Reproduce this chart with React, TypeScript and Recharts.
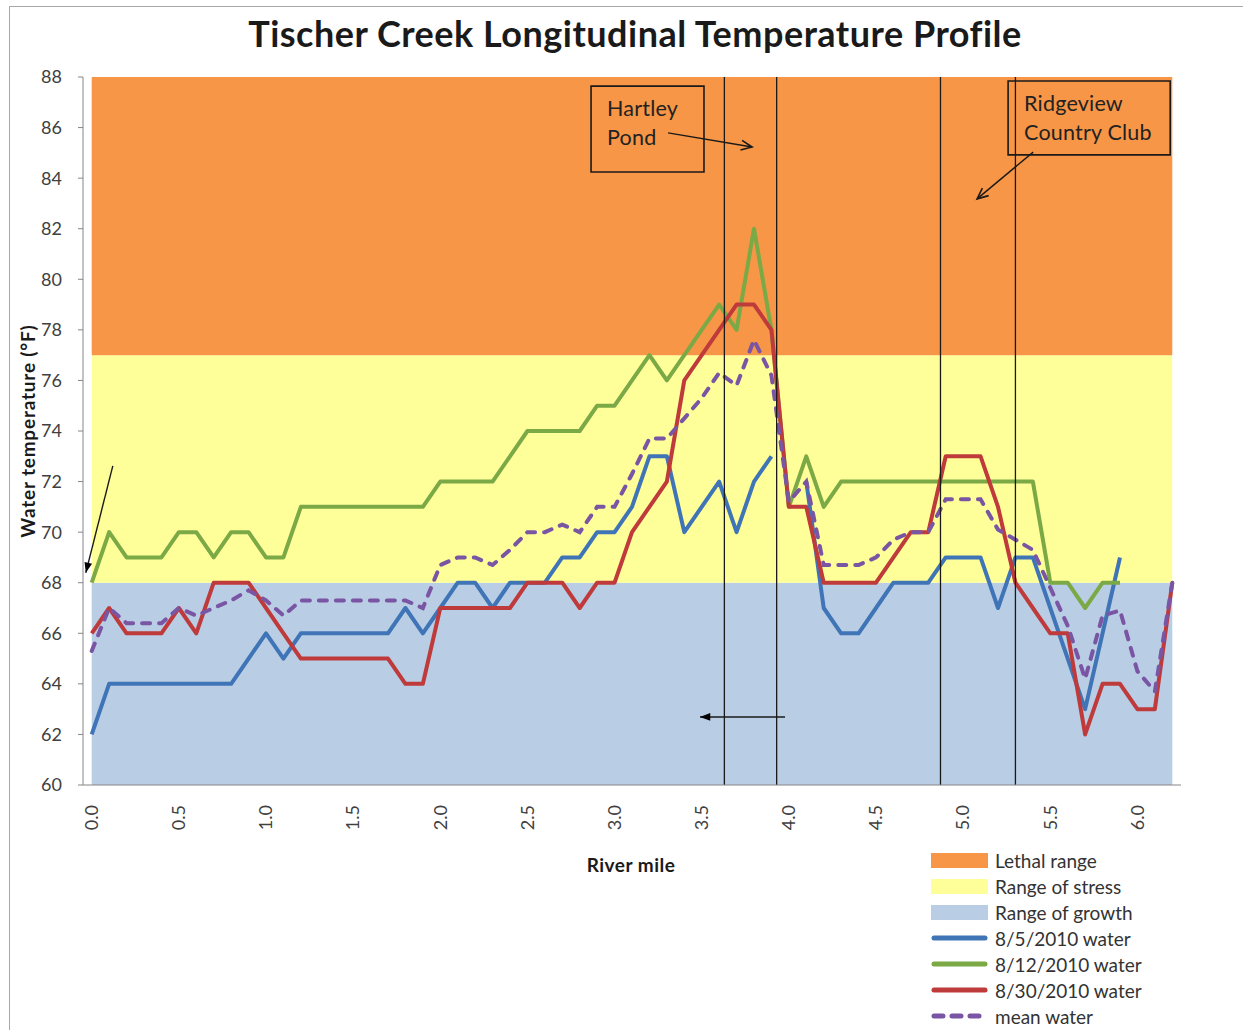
import React from "react";
import { LineChart, Line, XAxis, YAxis, ReferenceArea, ReferenceLine, Legend } from "recharts";

// river mile of every sampling point
const riverMiles = [
  0.0, 0.1, 0.2, 0.3, 0.4, 0.5, 0.6, 0.7, 0.8, 0.9,
  1.0, 1.1, 1.2, 1.3, 1.4, 1.5, 1.6, 1.7, 1.8, 1.9,
  2.0, 2.1, 2.2, 2.3, 2.4, 2.5, 2.6, 2.7, 2.8, 2.9,
  3.0, 3.1, 3.2, 3.3, 3.4, 3.5, 3.6, 3.7, 3.8, 3.9,
  4.0, 4.1, 4.2, 4.3, 4.4, 4.5, 4.6, 4.7, 4.8, 4.9,
  5.0, 5.1, 5.2, 5.3, 5.4, 5.5, 5.6, 5.7, 5.8, 5.9,
  6.0, 6.1, 6.2,
];

// water temperature (°F) per survey
const aug5Water = [
  62, 64, 64, 64, 64, 64, 64, 64, 64, 65,
  66, 65, 66, 66, 66, 66, 66, 66, 67, 66,
  67, 68, 68, 67, 68, 68, 68, 69, 69, 70,
  70, 71, 73, 73, 70, 71, 72, 70, 72, 73,
  null, 72, 67, 66, 66, 67, 68, 68, 68, 69,
  69, 69, 67, 69, 69, 67, 65, 63, 66, 69,
  null, null, null,
];
const aug12Water = [
  68, 70, 69, 69, 69, 70, 70, 69, 70, 70,
  69, 69, 71, 71, 71, 71, 71, 71, 71, 71,
  72, 72, 72, 72, 73, 74, 74, 74, 74, 75,
  75, 76, 77, 76, 77, 78, 79, 78, 82, 78,
  71, 73, 71, 72, 72, 72, 72, 72, 72, 72,
  72, 72, 72, 72, 72, 68, 68, 67, 68, 68,
  null, null, null,
];
const aug30Water = [
  66, 67, 66, 66, 66, 67, 66, 68, 68, 68,
  67, 66, 65, 65, 65, 65, 65, 65, 64, 64,
  67, 67, 67, 67, 67, 68, 68, 68, 67, 68,
  68, 70, 71, 72, 76, 77, 78, 79, 79, 78,
  71, 71, 68, 68, 68, 68, 69, 70, 70, 73,
  73, 73, 71, 68, 67, 66, 66, 62, 64, 64,
  63, 63, 68,
];
const meanWater = [
  65.3, 67, 66.4, 66.4, 66.4, 67, 66.7, 67, 67.3, 67.7,
  67.3, 66.7, 67.3, 67.3, 67.3, 67.3, 67.3, 67.3, 67.3, 67,
  68.7, 69, 69, 68.7, 69.3, 70, 70, 70.3, 70, 71,
  71, 72.3, 73.7, 73.7, 74.5, 75.3, 76.3, 75.8, 77.6, 76.2,
  71.2, 72, 68.7, 68.7, 68.7, 69, 69.7, 70, 70, 71.3,
  71.3, 71.3, 70.1, 69.7, 69.3, 67.8, 66.3, 64.2, 66.7, 66.9,
  64.5, 63.7, 68,
];

const tempTicks = [60, 62, 64, 66, 68, 70, 72, 74, 76, 78, 80, 82, 84, 86, 88];
const mileTickLabels = ["0.0", "0.5", "1.0", "1.5", "2.0", "2.5", "3.0", "3.5", "4.0", "4.5", "5.0", "5.5", "6.0"];

// thermal ranges (°F)
const growthRange = [60, 68];
const stressRange = [68, 77];
const lethalRange = [77, 88];

// landmarks drawn as vertical lines (river mile)
const landmarkMiles = [3.63, 3.93, 4.87, 5.3];

// callout boxes in chart units: [mile from, mile to, temp low, temp high]
const calloutBoxes = [
  { lines: ["Hartley", "Pond"], box: [2.865, 3.513, 84.24, 87.64] },
  { lines: ["Ridgeview", "Country Club"], box: [5.258, 6.188, 84.92, 87.84] },
];

// arrows in chart units: [mile, temp] -> [mile, temp]
const arrows = [
  { from: [3.307, 85.79], to: [3.789, 85.23], head: "open" },
  { from: [5.402, 85.03], to: [5.08, 83.18], head: "open" },
  { from: [3.978, 62.69], to: [3.49, 62.69], head: "solid" },
  { from: [0.121, 72.62], to: [-0.034, 68.39], head: "solid" },
];

const legendLabels = [
  "Lethal range",
  "Range of stress",
  "Range of growth",
  "8/5/2010 water",
  "8/12/2010 water",
  "8/30/2010 water",
  "mean water",
];

const COLORS = {
  lethal: "#F79646",
  stress: "#FFFF99",
  growth: "#B9CDE5",
  aug5: "#3F75B6",
  aug12: "#7BA946",
  aug30: "#BF3A3A",
  mean: "#7955A3",
};

const FONT = "Lato, 'Open Sans', sans-serif";

const data = riverMiles.map((mile, i) => ({
  mile,
  aug5: aug5Water[i],
  aug12: aug12Water[i],
  aug30: aug30Water[i],
  mean: meanWater[i],
}));

// tick marks sit between the sampling points, as in the Excel category axis
const binEdges = riverMiles.map((m) => +(m - 0.05).toFixed(2)).concat(6.25);
const mileTicks = mileTickLabels.map(Number);

const MileTick = (props: any) => {
  const { x, y, payload } = props;
  return (
    <text
      x={x}
      y={y}
      transform={`rotate(-90 ${x} ${y})`}
      textAnchor="end"
      dy="0.35em"
      fontSize={18}
      fontFamily={FONT}
      fill="#404040"
    >
      {Number(payload.value).toFixed(1)}
    </text>
  );
};

const makeArrow = (head: string) => (props: any) => {
  const { x1, y1, x2, y2 } = props;
  const ang = Math.atan2(y2 - y1, x2 - x1);
  const len = head === "open" ? 12 : 11;
  const spread = head === "open" ? 0.42 : 0.36;
  const ax = x2 - len * Math.cos(ang - spread);
  const ay = y2 - len * Math.sin(ang - spread);
  const bx = x2 - len * Math.cos(ang + spread);
  const by = y2 - len * Math.sin(ang + spread);
  return (
    <g>
      <line x1={x1} y1={y1} x2={x2} y2={y2} stroke="#1a1a1a" strokeWidth={1.4} />
      {head === "open" ? (
        <polyline points={`${ax},${ay} ${x2},${y2} ${bx},${by}`} fill="none" stroke="#1a1a1a" strokeWidth={1.6} />
      ) : (
        <polygon points={`${ax},${ay} ${x2},${y2} ${bx},${by}`} fill="#000" />
      )}
    </g>
  );
};

const calloutLabel = (lines: string[]) => (props: any) => {
  const { viewBox } = props;
  return (
    <text fontSize={21.5} fontFamily={FONT} fill="#222" letterSpacing={0.2}>
      {lines.map((l, i) => (
        <tspan key={l} x={viewBox.x + 16} y={viewBox.y + 30 + i * 29}>
          {l}
        </tspan>
      ))}
    </text>
  );
};

const Swatch = ({ idx }: { idx: number }) => {
  const areaColors = [COLORS.lethal, COLORS.stress, COLORS.growth];
  const lineColors = [COLORS.aug5, COLORS.aug12, COLORS.aug30, COLORS.mean];
  return (
    <svg width={67} height={20}>
      {idx < 3 ? (
        <rect x={3} y={3} width={57} height={15} fill={areaColors[idx]} />
      ) : (
        <line
          x1={6}
          x2={57}
          y1={10}
          y2={10}
          stroke={lineColors[idx - 3]}
          strokeWidth={5}
          strokeLinecap="round"
          strokeDasharray={idx === 6 ? "9 9" : undefined}
        />
      )}
    </svg>
  );
};

const LegendBox = () => (
  <div style={{ fontFamily: FONT, fontSize: 19, color: "#333" }}>
    {legendLabels.map((label, i) => (
      <div key={label} style={{ display: "flex", alignItems: "center", height: 26, whiteSpace: "nowrap" }}>
        <Swatch idx={i} />
        <span>{label}</span>
      </div>
    ))}
  </div>
);

export default function App() {
  return (
    <div style={{ position: "absolute", left: 0, top: 0, width: 1243, height: 1030, background: "#fff", overflow: "hidden" }}>
      <div
        style={{
          position: "absolute",
          left: 9,
          top: 6,
          right: 0,
          bottom: 0,
          borderTop: "1.5px solid #a8a8a8",
          borderLeft: "1.5px solid #a8a8a8",
        }}
      />
      <div
        style={{
          position: "absolute",
          left: 635,
          top: 15,
          transform: "translateX(-50%)",
          whiteSpace: "nowrap",
          fontFamily: FONT,
          fontWeight: 700,
          fontSize: 36,
          letterSpacing: 0.5,
          lineHeight: "36px",
          color: "#1a1a1a",
        }}
      >
        Tischer Creek Longitudinal Temperature Profile
      </div>
      <div
        style={{
          position: "absolute",
          left: 27,
          top: 431,
          transform: "translate(-50%, -50%) rotate(-90deg)",
          whiteSpace: "nowrap",
          fontFamily: FONT,
          fontWeight: 700,
          fontSize: 19,
          letterSpacing: 0.8,
          color: "#1a1a1a",
        }}
      >
        Water temperature (°F)
      </div>
      <div
        style={{
          position: "absolute",
          left: 631,
          top: 864,
          transform: "translate(-50%, -50%)",
          whiteSpace: "nowrap",
          fontFamily: FONT,
          fontWeight: 700,
          fontSize: 19,
          letterSpacing: 0.5,
          color: "#1a1a1a",
        }}
      >
        River mile
      </div>
      <div style={{ position: "absolute", left: 0, top: 0 }}>
        <LineChart width={1243} height={1030} data={data} margin={{ top: 77, right: 62, bottom: 175, left: 0 }}>
          <XAxis
            xAxisId="bins"
            type="number"
            dataKey="mile"
            domain={[-0.05, 6.25]}
            ticks={binEdges}
            interval={0}
            tick={false}
            tickSize={5}
            height={20}
            axisLine={{ stroke: "#868686" }}
            tickLine={{ stroke: "#868686" }}
          />
          <XAxis
            xAxisId="miles"
            type="number"
            dataKey="mile"
            domain={[-0.05, 6.25]}
            ticks={mileTicks}
            interval={0}
            tick={<MileTick />}
            tickSize={0}
            tickMargin={0}
            height={50}
            axisLine={false}
            tickLine={false}
          />
          <YAxis
            type="number"
            domain={[60, 88]}
            ticks={tempTicks}
            interval={0}
            width={83}
            tickSize={5}
            tickMargin={16}
            axisLine={{ stroke: "#868686" }}
            tickLine={{ stroke: "#868686" }}
            tick={{ fontSize: 18, fill: "#404040", fontFamily: FONT }}
          />
          <ReferenceArea xAxisId="bins" x1={0} x2={6.2} y1={growthRange[0]} y2={growthRange[1]} fill={COLORS.growth} fillOpacity={1} stroke="none" />
          <ReferenceArea xAxisId="bins" x1={0} x2={6.2} y1={stressRange[0]} y2={stressRange[1]} fill={COLORS.stress} fillOpacity={1} stroke="none" />
          <ReferenceArea xAxisId="bins" x1={0} x2={6.2} y1={lethalRange[0]} y2={lethalRange[1]} fill={COLORS.lethal} fillOpacity={1} stroke="none" />

          <Line xAxisId="bins" type="linear" dataKey="aug5" stroke={COLORS.aug5} strokeWidth={4} dot={false} activeDot={false} strokeLinejoin="round" isAnimationActive={false} />
          <Line xAxisId="bins" type="linear" dataKey="aug12" stroke={COLORS.aug12} strokeWidth={4} dot={false} activeDot={false} strokeLinejoin="round" isAnimationActive={false} />
          <Line xAxisId="bins" type="linear" dataKey="aug30" stroke={COLORS.aug30} strokeWidth={4} dot={false} activeDot={false} strokeLinejoin="round" isAnimationActive={false} />
          <Line
            xAxisId="bins"
            type="linear"
            dataKey="mean"
            stroke={COLORS.mean}
            strokeWidth={4}
            strokeDasharray="8 9"
            strokeLinecap="round"
            dot={false}
            activeDot={false}
            isAnimationActive={false}
          />

          {landmarkMiles.map((m) => (
            <ReferenceLine key={m} xAxisId="bins" x={m} stroke="#1a1a1a" strokeWidth={1.3} />
          ))}
          {calloutBoxes.map((c) => (
            <ReferenceArea
              key={c.lines[0]}
              xAxisId="bins"
              x1={c.box[0]}
              x2={c.box[1]}
              y1={c.box[2]}
              y2={c.box[3]}
              fill="none"
              stroke="#1a1a1a"
              strokeWidth={1.6}
              label={calloutLabel(c.lines)}
            />
          ))}
          {arrows.map((a, i) => (
            <ReferenceLine
              key={i}
              xAxisId="bins"
              ifOverflow="visible"
              segment={[
                { x: a.from[0], y: a.from[1] },
                { x: a.to[0], y: a.to[1] },
              ]}
              shape={makeArrow(a.head)}
            />
          ))}
          <Legend
            layout="vertical"
            align="center"
            verticalAlign="middle"
            wrapperStyle={{ left: 928, top: 847, width: 260 }}
            content={() => <LegendBox />}
          />
        </LineChart>
      </div>
    </div>
  );
}
